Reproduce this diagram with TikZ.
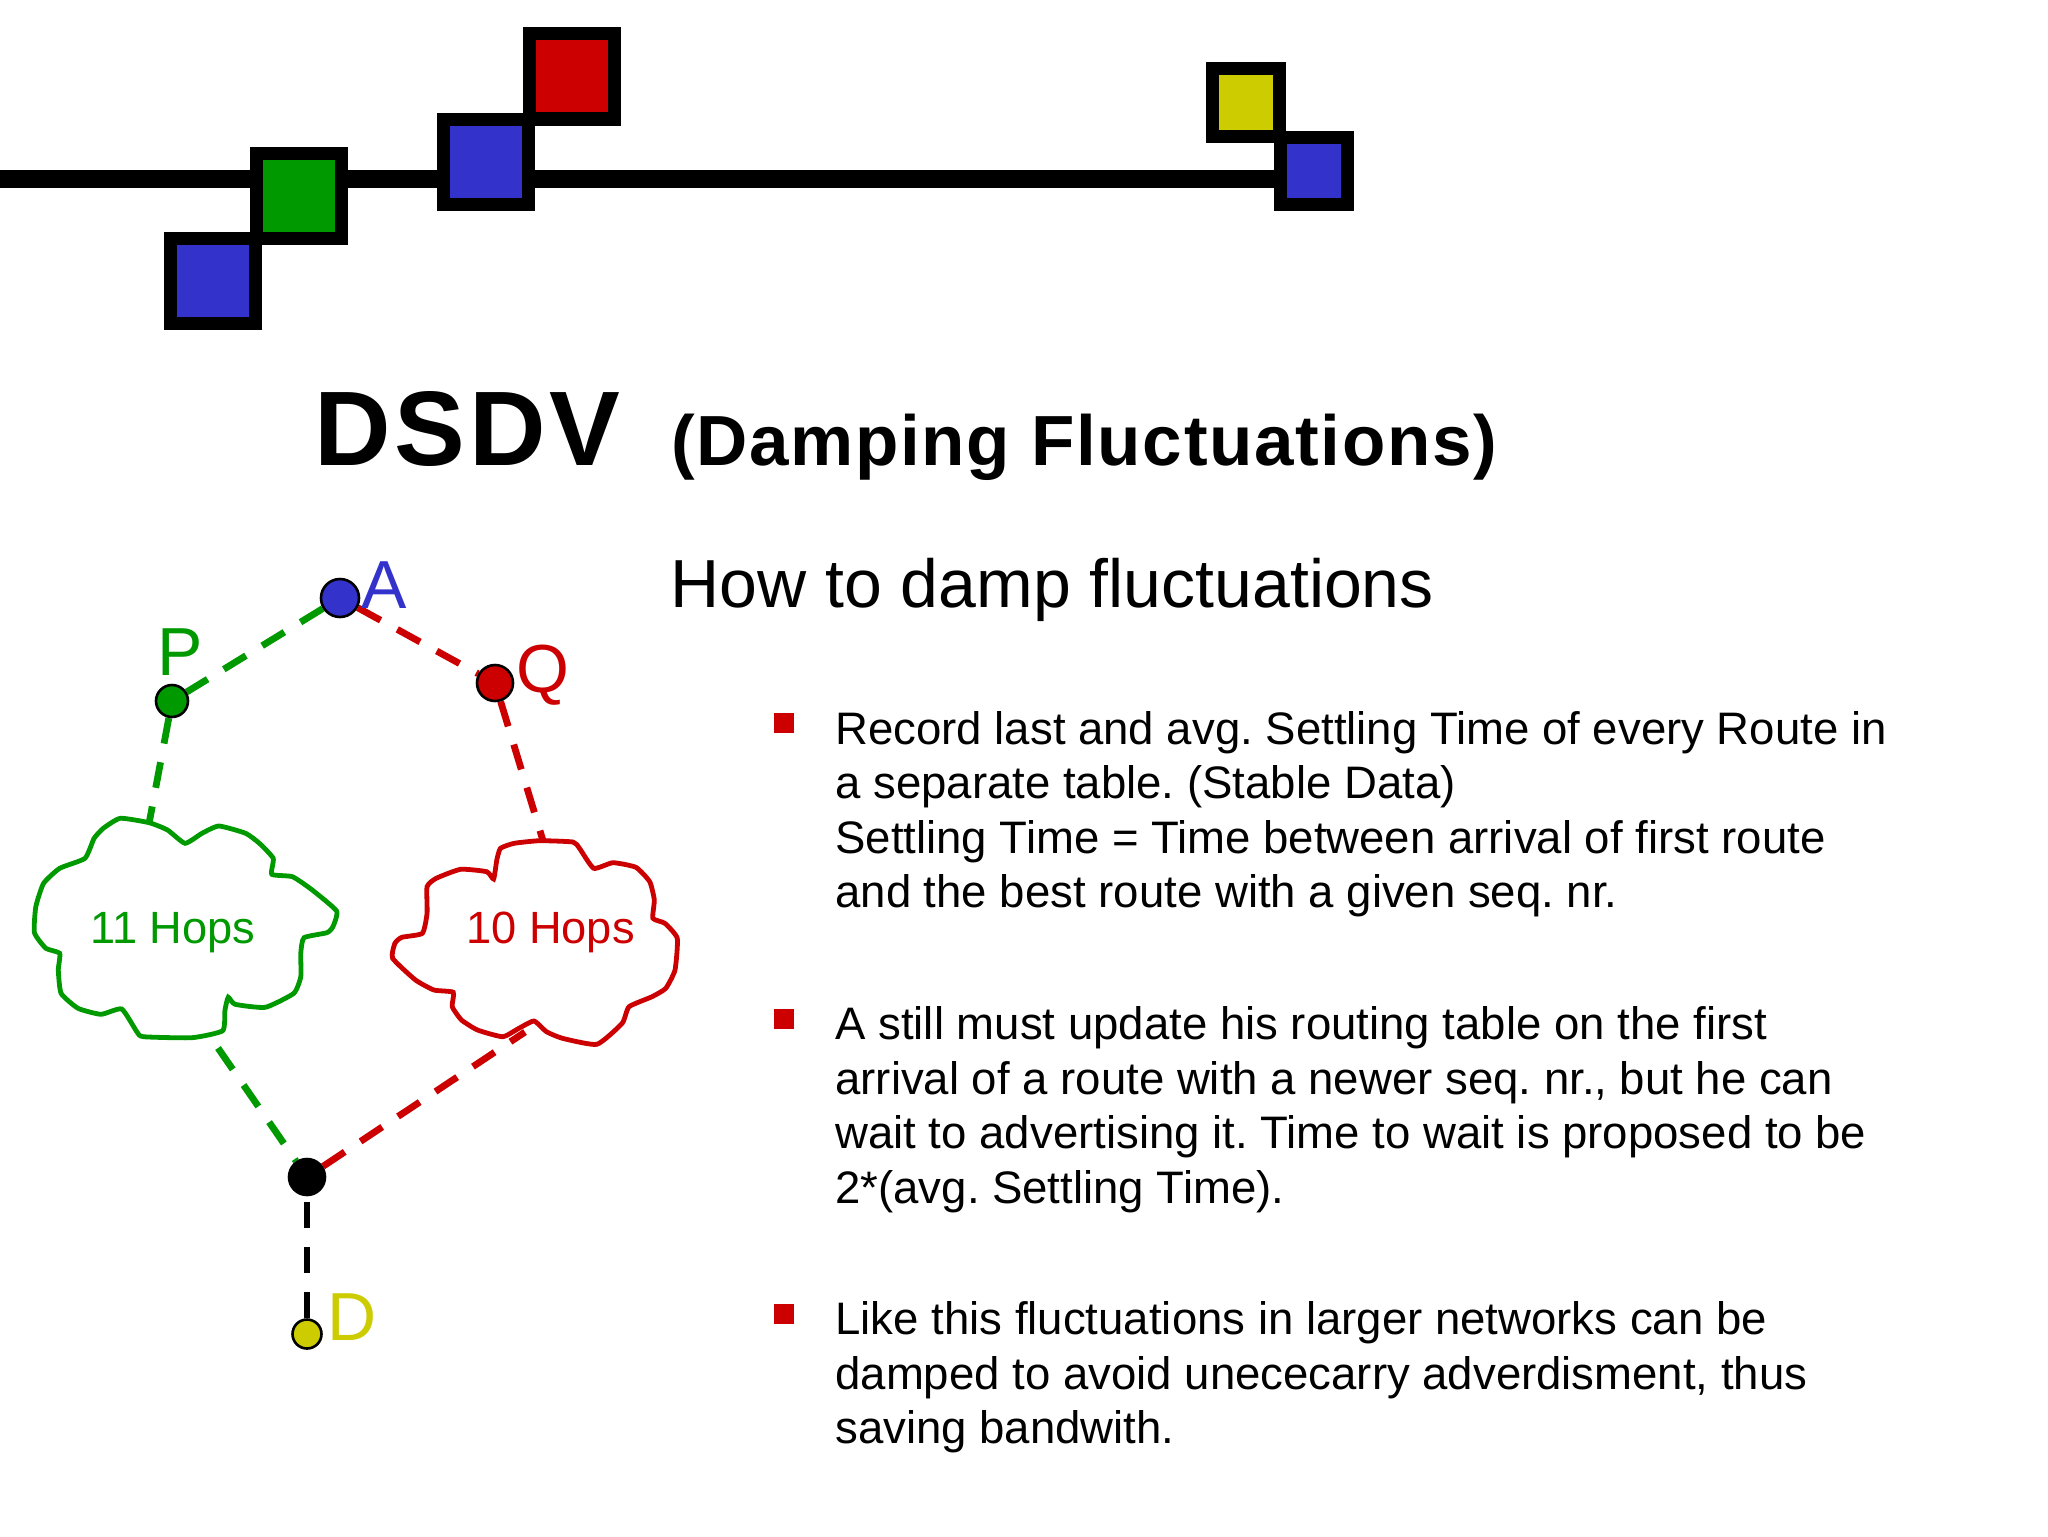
\documentclass[tikz,border=0pt]{standalone}
\usepackage{fontspec}
\setmainfont{Liberation Sans}
\usepackage{xcolor}
\usetikzlibrary{backgrounds}
\definecolor{slideblue}{HTML}{3333CC}
\definecolor{slidegreen}{HTML}{009900}
\definecolor{slidered}{HTML}{CC0000}
\definecolor{slideyellow}{HTML}{CCCC00}
\tikzstyle{slide}=[
  x=0.5pt,y=-0.5pt
]
\tikzstyle{stationbox}=[
  draw=black,line width=6.5pt,minimum size=42.5pt,inner sep=0pt
]
\tikzstyle{smallbox}=[
  stationbox,minimum size=33.5pt
]
\tikzstyle{hopnode}=[
  draw=black,circle,inner sep=0pt,line width=1.3pt
]
\tikzstyle{hopedge}=[
  line width=3.4pt,dash pattern=on 13pt off 9.5pt
]
\tikzstyle{cloudline}=[
  line width=2.4pt
]
\tikzstyle{hoplabel}=[
  anchor=base west,inner sep=0pt,font=\fontsize{34}{40}\selectfont
]
\tikzstyle{hopcount}=[
  anchor=base west,inner sep=0pt,font=\fontsize{22.6}{27}\selectfont
]
\tikzstyle{bodytext}=[
  anchor=base west,inner sep=0pt,align=left,font=\fontsize{22.77}{27.2}\selectfont\frenchspacing
]
\tikzstyle{bulletmark}=[
  fill=slidered,minimum size=10pt,inner sep=0pt
]
\begin{document}
\begin{tikzpicture}[slide]
    \useasboundingbox (0,0) rectangle (2048,1536);
    % header bar
    \coordinate (barstart) at (0,179);
    \node (s1) at (1314.3,170.5) [smallbox,fill=slideblue] {};
    \node (s2) at (1246,102.5) [smallbox,fill=slideyellow] {};
    \node (s3) at (213.4,281) [stationbox,fill=slideblue] {};
    \node (s4) at (298.7,196) [stationbox,fill=slidegreen] {};
    \node (s5) at (486.2,162) [stationbox,fill=slideblue] {};
    \node (s6) at (571.9,76.5) [stationbox,fill=slidered] {};
    % title
    \node (dsdv) at (314,465) [anchor=base west,inner sep=0pt,font=\fontsize{53}{60}\bfseries\selectfont] {\addfontfeature{LetterSpace=3.5}DSDV};
    \node (damping) at (671,465) [anchor=base west,inner sep=0pt,font=\fontsize{35.5}{42}\bfseries\selectfont] {\addfontfeature{LetterSpace=2.3}(Damping Fluctuations)};
    \node (howto) at (670,607) [anchor=base west,inner sep=0pt,font=\fontsize{34}{40}\selectfont] {How to damp fluctuations};
    % network
    \node (a) at (340,598) [hopnode,fill=slideblue,minimum size=19pt] {};
    \node (p) at (172,701) [hopnode,fill=slidegreen,minimum size=16pt] {};
    \node (q) at (495,683) [hopnode,fill=slidered,minimum size=18pt] {};
    \node (m) at (307,1177) [hopnode,fill=black,minimum size=18pt] {};
    \node (d) at (307,1334) [hopnode,fill=slideyellow,minimum size=14.5pt] {};
    \coordinate (ptop) at (149.2,822.7);
    \coordinate (pbot) at (218,1048);
    \coordinate (qtop) at (543,840.7);
    \coordinate (qbot) at (525,1032);
    \begin{scope}[on background layer]
      \fill [white] (0,0) rectangle (2048,1536);
      \draw [line width=9pt] (barstart) -- (barstart -| s1);
      \draw [hopedge,slidegreen] (a) -- (p);
      \draw [hopedge,slidered] (a) -- (q);
      \draw [hopedge,slidegreen] (p) -- (ptop);
      \draw [hopedge,slidered] (q) -- (qtop);
      \draw [hopedge,slidegreen] (pbot) -- (m);
      \draw [hopedge,slidered] (m) -- (qbot);
      \draw [hopedge,black] (d) -- (m);
    \end{scope}
    \node (alabel) at (361,608) [hoplabel,text=slideblue] {A};
    \node (plabel) at (157,675) [hoplabel,text=slidegreen] {P};
    \node (qlabel) at (516,692) [hoplabel,text=slidered] {Q};
    \node (dlabel) at (327,1340) [hoplabel,text=slideyellow] {D};
    % clouds
    \begin{scope}[xscale=0.995]
      \draw [cloudline,slidegreen] plot [smooth cycle,tension=0.3] coordinates {
        (120.9,818.3) (150,822.7) (168.4,830) (186,843.3) (203,833.3) (220,826)
        (246.9,833.3) (260.7,843.3) (274.6,858.3) (273.2,874.3) (294,876.7)
        (313.8,890) (338.3,911) (334.6,926.7) (328.6,932.7) (305.5,937.7)
        (302.3,953.3) (302.3,976.7) (295.3,993.3) (266.7,1007.3) (236.3,1004.3)
        (229.4,997.3) (226.1,1010) (223.8,1030.7) (192.9,1037.7) (144,1036.7)
        (137.5,1031.7) (122.3,1009) (101.5,1014.3) (78.4,1008.3) (61.4,993.3)
        (58.6,970) (60,953.3) (46.1,948.3) (34.6,932.7) (36,906.7) (43.8,883.3)
        (60,868.3) (85.4,858.3) (94.6,838.3) (103.8,828.3)};
      \draw [cloudline,slidered] plot [smooth cycle,tension=0.3] coordinates {
        (542.2,840.7) (575.9,842) (582.4,848.3) (596.7,868.3) (616,862.7)
        (639.1,867.3) (653,881.7) (657.6,900) (656.2,918.3) (668.2,923.3)
        (680.7,938.3) (678.4,970) (669.1,988.3) (655.3,996.7) (632.2,1006.7)
        (625.3,1023.3) (599.9,1044.3) (565.3,1038.3) (549.2,1031.7) (536.7,1021)
        (521.5,1028.3) (505.3,1036.7) (479.9,1030) (463.8,1020) (454.5,1006.7)
        (455.5,992.3) (436.1,990) (417.6,980) (394.6,958.3) (396.9,943.3)
        (403.8,937.3) (424.5,933.3) (429.2,913.3) (429.2,886.7) (438.4,878.3)
        (462.9,869.3) (489.2,871.7) (496.1,879) (499.3,860) (503,848.3) (516.8,843.3)};
    \end{scope}
    \node (hops11) at (90,943) [hopcount,text=slidegreen] {11 Hops};
    \node (hops10) at (466,943) [hopcount,text=slidered] {10 Hops};
    % text block
    \node (b1) at (784,723) [bulletmark] {};
    \node (b2) at (784,1019) [bulletmark] {};
    \node (b3) at (784,1314) [bulletmark] {};
    \node (t1) at (835,907.5) [bodytext] {Record last and avg. Settling Time of every Route in\\a separate table. (Stable Data)\\Settling Time = Time between arrival of first route\\and the best route with a given seq. nr.};
    \node (t2) at (835,1203) [bodytext] {A still must update his routing table on the first\\arrival of a route with a newer seq. nr., but he can\\wait to advertising it. Time to wait is proposed to be\\2*(avg. Settling Time).};
    \node (t3) at (835,1443.5) [bodytext] {Like this fluctuations in larger networks can be\\damped to avoid unececarry adverdisment, thus\\saving bandwith.};
\end{tikzpicture}
\end{document}
